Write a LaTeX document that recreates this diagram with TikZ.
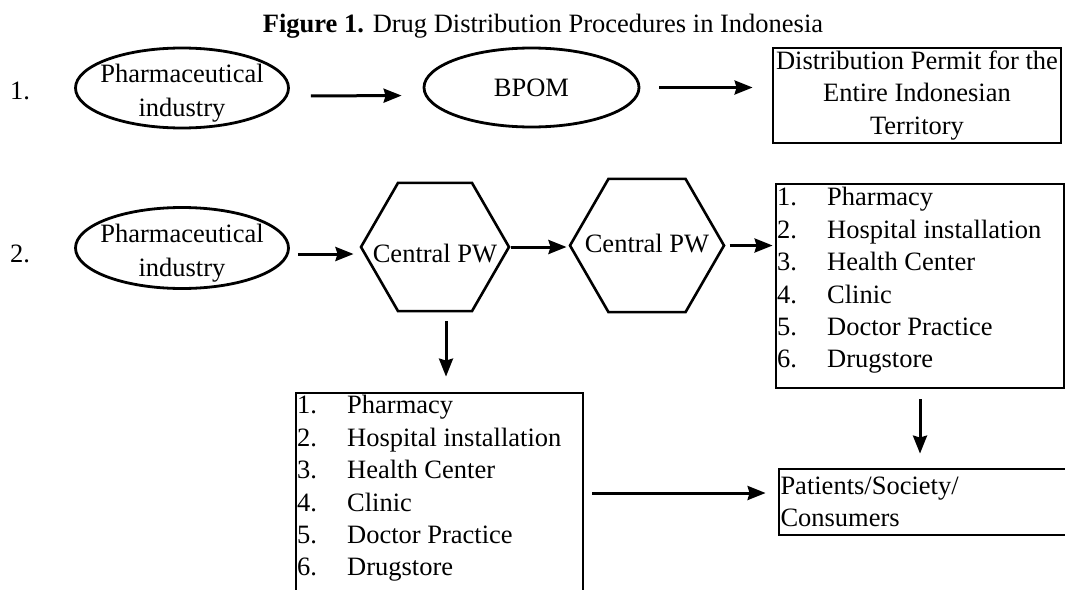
\documentclass[tikz,border=0pt]{standalone}
\usepackage{fontspec}
\setmainfont{Liberation Serif}
\usetikzlibrary{arrows.meta,shapes.geometric,positioning}

\begin{document}
\begin{tikzpicture}[x=1pt, y=-1pt,
                    font=\fontsize{26.5}{32.4}\selectfont,
                    oval/.style={draw, ellipse, line width=2.8pt, inner sep=0pt},
                    hexa/.style={draw, regular polygon, regular polygon sides=6,
                                 line width=2.6pt, inner sep=0pt},
                    box/.style={draw, rectangle, line width=2.8pt, inner sep=0pt},
                    inside/.style={align=center, yshift=-5pt,
                                   font=\fontsize{26.5}{34}\selectfont},
                    flow/.style={-{Stealth[length=18pt,width=14pt,inset=2pt]},
                                 line width=3pt}]
   \useasboundingbox (0,0) rectangle (1065,589);
   \clip (0,0) rectangle (1065,589);

   \node (title) [anchor=base] at (543,32)
        {\textbf{Figure 1.} Drug Distribution Procedures in Indonesia};

   % first route
   \node (num1) at (20,91) {1.};
   \node[oval, minimum width=213pt, minimum height=80pt,
         label={[inside]center:{Pharmaceutical\\industry}}] (ind1) at (182,88) {};
   \node[oval, minimum width=215pt, minimum height=79pt] (bpom) at (531.5,87.5) {BPOM};
   \node[box, minimum width=288pt, minimum height=95pt, align=center] (permit) at (917,95.5)
        {Distribution Permit for the\\Entire Indonesian\\Territory};

   % second route
   \node (num2) at (20,254) {2.};
   \node[oval, minimum width=213pt, minimum height=81pt,
         label={[inside]center:{Pharmaceutical\\industry}}] (ind2) at (182,248) {};
   \node[hexa, minimum size=148pt, label={[yshift=-7pt]center:Central PW}] (pw1) at (435,247) {};
   \node[hexa, minimum size=154pt, label={[yshift=2pt]center:Central PW}] (pw2) at (647,245.5) {};

   \node[box, minimum width=288pt, minimum height=204pt] (listR) at (920,286) {};
   \node[anchor=north west, inner sep=0pt] (listRtxt) at (777,183)
        {\begin{tabular}{@{}p{50pt}@{}l@{}}
          1. & Pharmacy\\ 2. & Hospital installation\\ 3. & Health Center\\
          4. & Clinic\\ 5. & Doctor Practice\\ 6. & Drugstore
         \end{tabular}};

   \node[box, minimum width=287pt, minimum height=200pt] (listL) at (439.5,493) {};
   \node[anchor=north west, inner sep=0pt] (listLtxt) at (297,391)
        {\begin{tabular}{@{}p{50pt}@{}l@{}}
          1. & Pharmacy\\ 2. & Hospital installation\\ 3. & Health Center\\
          4. & Clinic\\ 5. & Doctor Practice\\ 6. & Drugstore
         \end{tabular}};

   \node[box, minimum height=66pt, text width=318pt, inner xsep=1.5pt, align=left]
        (cons) at (939.5,502) {Patients/Society/\\Consumers};

   \coordinate (drop) at ([xshift=11pt]pw1.south);

   % arrows
   \path[flow]
    ([yshift=-8pt]ind1.east) edge[shorten <=21pt, shorten >=21pt] ([yshift=-8pt]bpom.west)
    (bpom.east)   edge[shorten <=19pt, shorten >=19pt] (bpom.east -| permit.west)
    ([yshift=-6pt]ind2.east) edge[shorten <=8pt, shorten >=6pt] ([yshift=-6pt]ind2.east -| pw1.west)
    (pw1.east)    edge[shorten >=2pt]                  (pw1.east -| pw2.west)
    (pw2.east)    edge[shorten <=4pt, shorten >=2pt]   (pw2.east -| listR.west)
    (drop)        edge[shorten <=9pt, shorten >=15pt]  (drop |- listL.north)
    (listR.south) edge[shorten <=10pt, shorten >=14pt] (listR.south |- cons.north)
    (listL.east)  edge[shorten <=8pt, shorten >=12pt]  (listL.east -| cons.west);

\end{tikzpicture}
\end{document}
